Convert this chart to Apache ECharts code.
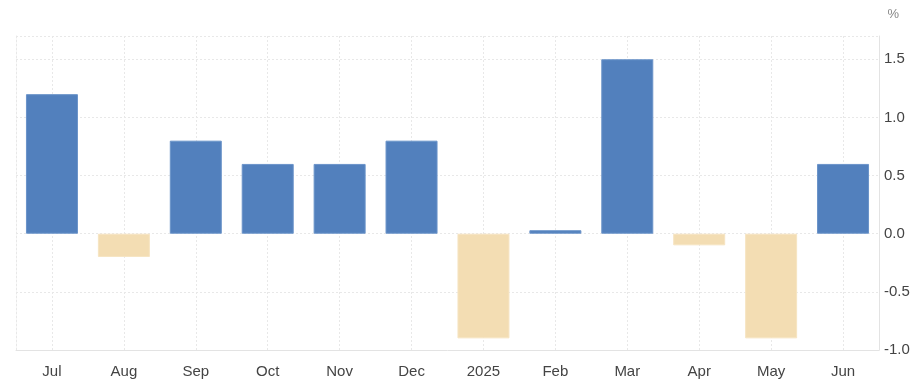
<!DOCTYPE html>
<html>
<head>
<meta charset="utf-8">
<script src="https://cdn.jsdelivr.net/npm/echarts@6/dist/echarts.min.js"></script>
<style>
  html, body { margin: 0; padding: 0; background: #ffffff; }
  #chart { width: 914px; height: 391px; }
</style>
</head>
<body>
<div id="chart"></div>
<script>
const categories = ['Jul', 'Aug', 'Sep', 'Oct', 'Nov', 'Dec', '2025', 'Feb', 'Mar', 'Apr', 'May', 'Jun'];
const values = [1.2, -0.2, 0.8, 0.6, 0.6, 0.8, -0.9, 0.03, 1.5, -0.1, -0.9, 0.6];
const yTicks = [-1.0, -0.5, 0.0, 0.5, 1.0, 1.5];
const unitLabel = '%';

const POS = '#5280BD';
const NEG = '#F3DDB3';
const FONT = '"Liberation Sans", Arial, sans-serif';

const chart = echarts.init(document.getElementById('chart'), null, { renderer: 'canvas' });
chart.setOption({
  animation: false,
  backgroundColor: '#ffffff',
  graphic: [{
    type: 'text', right: 15, top: 8,
    style: { text: unitLabel, fill: '#888888', font: '13px ' + FONT }
  }],
  grid: { left: 16, right: 35, top: 36, bottom: 41, containLabel: false },
  xAxis: {
    type: 'category',
    data: categories,
    axisLine: { show: true, onZero: false, lineStyle: { color: '#e3e3e3', width: 1 } },
    axisTick: { show: false, alignWithLabel: true },
    splitLine: { show: true, alignWithLabel: true, lineStyle: { color: '#e8e8e8', type: [2, 2], width: 1 } },
    axisLabel: { color: '#444444', fontSize: 15, fontFamily: FONT, margin: 14 }
  },
  yAxis: [{
    type: 'value',
    position: 'right',
    min: -1,
    max: 1.7,
    interval: 0.5,
    axisLine: { show: true, lineStyle: { color: '#e3e3e3', width: 1 } },
    axisTick: { show: false },
    splitLine: { show: true, lineStyle: { color: '#e8e8e8', type: [2, 2], width: 1 } },
    axisLabel: {
      color: '#444444', fontSize: 15, fontFamily: FONT, margin: 5,
      showMaxLabel: false,
      formatter: function (v) {
        const hit = yTicks.find(t => Math.abs(t - v) < 1e-6);
        return hit === undefined ? '' : hit.toFixed(1);
      }
    }
  }, {
    type: 'value',
    position: 'left',
    min: -1,
    max: 1.7,
    axisLine: { show: true, lineStyle: { color: '#e8e8e8', type: [2, 2], width: 1 } },
    axisTick: { show: false },
    axisLabel: { show: false },
    splitLine: { show: false }
  }],
  series: [{
    type: 'bar',
    yAxisIndex: 0,
    barWidth: 52,
    data: values.map(v => ({
      value: v,
      itemStyle: { color: v >= 0 ? POS : NEG, borderColor: v >= 0 ? '#6a93c9' : '#f6e4c2', borderWidth: 1 }
    }))
  }]
});
</script>
</body>
</html>
